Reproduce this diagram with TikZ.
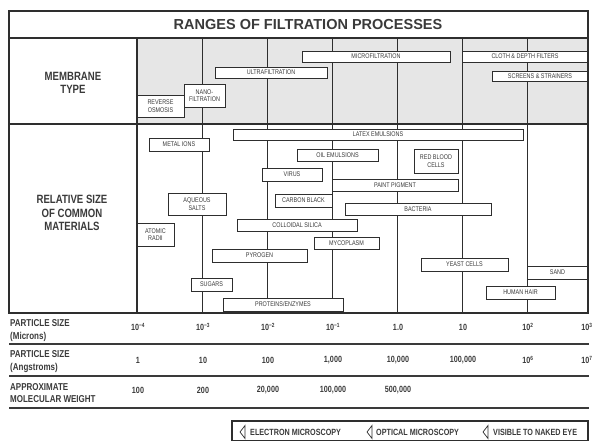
\documentclass[tikz,border=0pt]{standalone}
\usepackage{fontspec}
\setmainfont{Liberation Sans}
\newfontfamily\narrowfont{Liberation Sans}[FakeStretch=0.8]
\usetikzlibrary{positioning,calc}
\definecolor{inkgray}{HTML}{3A3A3A}
\definecolor{linegray}{HTML}{2E2E2E}
\definecolor{shadegray}{HTML}{E6E6E6}

\tikzset{
  bar/.style={draw=linegray,fill=white,line width=0.8pt,inner sep=0pt,align=center,text=inkgray,
    font=\narrowfont\fontsize{6.8}{7.6}\selectfont},
  rowhead/.style={align=center,text=inkgray,inner sep=0pt,font=\narrowfont\bfseries\fontsize{12}{13.5}\selectfont},
  scalehead/.style={anchor=west,align=left,text=inkgray,inner sep=0pt,font=\narrowfont\bfseries\fontsize{10}{12.5}\selectfont},
  scaleval/.style={text=inkgray,inner sep=0pt,font=\narrowfont\bfseries\fontsize{9}{10}\selectfont},
  legendtxt/.style={anchor=west,inner sep=0pt,text=inkgray,font=\narrowfont\bfseries\fontsize{9}{9.5}\selectfont},
  gridline/.style={draw=linegray,line width=0.8pt},
  frameline/.style={draw=linegray,line width=1.4pt},
  sepline/.style={draw=inkgray,line width=1.8pt},
  chevron/.style={draw=linegray,line width=0.7pt,line join=miter}
}

\begin{document}
\begin{tikzpicture}[x=1pt,y=-1pt]
  \useasboundingbox (0,0) rectangle (598,441);

  % chart frame
  \fill[shadegray] (137,38) rectangle (588,124);
  \foreach \x in {202,267,332,397,462,527}
    \draw[gridline] (\x,38) -- (\x,313);
  \node[font=\bfseries\fontsize{14.5}{16}\selectfont,text=inkgray] (title) at (308,25) {RANGES OF FILTRATION PROCESSES};
  \node[rowhead] (membrane) at (73,83) {MEMBRANE\\TYPE};
  \node[rowhead] (relsize) at (72,213) {RELATIVE SIZE\\OF COMMON\\MATERIALS};

  % membrane type
  \node[bar,minimum width=47pt,minimum height=22pt] (ro) at (160.5,106) {REVERSE\\OSMOSIS};
  \node[bar,minimum width=41pt,minimum height=23pt] (nf) at (204.5,95.5) {NANO-\\FILTRATION};
  \node[bar,minimum width=112pt,minimum height=11pt] (uf) at (271,72.5) {ULTRAFILTRATION};
  \node[bar,minimum width=148pt,minimum height=11pt] (mf) at (376,56.5) {MICROFILTRATION};
  \node[bar,minimum width=126pt,minimum height=11pt] (cloth) at (525,56.5) {CLOTH \& DEPTH FILTERS};
  \node[bar,minimum width=96pt,minimum height=10pt] (screens) at (540,76) {SCREENS \& STRAINERS};

  % relative size of common materials
  \node[bar,minimum width=290pt,minimum height=11pt] (latex) at (378,134.5) {LATEX EMULSIONS};
  \node[bar,minimum width=60pt,minimum height=13pt] (metalions) at (179,144.5) {METAL IONS};
  \node[bar,minimum width=81pt,minimum height=12pt] (oil) at (337.5,155) {OIL EMULSIONS};
  \node[bar,minimum width=44pt,minimum height=24pt] (rbc) at (436,161) {RED BLOOD\\CELLS};
  \node[bar,minimum width=60pt,minimum height=13pt] (virus) at (292,174.5) {VIRUS};
  \node[bar,minimum width=126pt,minimum height=12pt] (paint) at (395,185) {PAINT PIGMENT};
  \node[bar,minimum width=57pt,minimum height=13pt] (carbon) at (303.5,200.5) {CARBON BLACK};
  \node[bar,minimum width=58pt,minimum height=22pt] (aqueous) at (197,204) {AQUEOUS\\SALTS};
  \node[bar,minimum width=146pt,minimum height=12pt] (bacteria) at (418,209) {BACTERIA};
  \node[bar,minimum width=120pt,minimum height=12pt] (silica) at (297,225) {COLLOIDAL SILICA};
  \node[bar,minimum width=37pt,minimum height=23pt] (atomic) at (155.5,234.5) {ATOMIC\\RADII};
  \node[bar,minimum width=65pt,minimum height=12pt] (myco) at (346.5,243) {MYCOPLASM};
  \node[bar,minimum width=95pt,minimum height=13pt] (pyrogen) at (259.5,255.5) {PYROGEN};
  \node[bar,minimum width=87pt,minimum height=13pt] (yeast) at (464.5,264.5) {YEAST CELLS};
  \node[bar,minimum width=61pt,minimum height=13pt] (sand) at (557.5,272.5) {SAND};
  \node[bar,minimum width=41pt,minimum height=13pt] (sugars) at (211.5,284.5) {SUGARS};
  \node[bar,minimum width=69pt,minimum height=13pt] (hair) at (520.5,292.5) {HUMAN HAIR};
  \node[bar,minimum width=120pt,minimum height=13pt] (proteins) at (283,304.5) {PROTEINS/ENZYMES};

  \draw[frameline] (9,11) rectangle (588,313);
  \draw[frameline] (9,38) -- (588,38);
  \draw[frameline] (9,124) -- (588,124);
  \draw[frameline] (137,38) -- (137,313);

  % scales
  \node[scalehead] (umhead) at (10,330.5) {PARTICLE SIZE\\(Microns)};
  \node[scalehead] (anghead) at (10,361.5) {PARTICLE SIZE\\(Angstroms)};
  \node[scalehead] (mwhead) at (10,393) {APPROXIMATE\\MOLECULAR WEIGHT};
  \foreach \x/\v [count=\i] in {138/{10\textsuperscript{−4}},203/{10\textsuperscript{−3}},268/{10\textsuperscript{−2}},
      333/{10\textsuperscript{−1}},398/{1.0},463/{10},528/{10\textsuperscript{2}},587/{10\textsuperscript{3}}}
    \node[scaleval] (um\i) at (\x,327) {\v};
  \foreach \x/\v [count=\i] in {138/{1},203/{10},268/{100},333/{1,000},398/{10,000},
      463/{100,000},528/{10\textsuperscript{6}},587/{10\textsuperscript{7}}}
    \node[scaleval] (ang\i) at (\x,360) {\v};
  \foreach \x/\v [count=\i] in {138/{100},203/{200},268/{20,000},333/{100,000},398/{500,000}}
    \node[scaleval] (mw\i) at (\x,390) {\v};
  \draw[sepline] (9,344) -- (589,344);
  \draw[sepline] (9,376) -- (589,376);
  \draw[sepline] (9,408) -- (589,408);

  % legend
  \node[draw=linegray,line width=1.2pt,minimum width=356pt,minimum height=19.5pt,inner sep=0pt] (legend) at (410,430.75) {};
  \node[legendtxt] (electron) at (250,432) {ELECTRON MICROSCOPY};
  \node[legendtxt] (optical) at (376,432) {OPTICAL MICROSCOPY};
  \node[legendtxt] (naked) at (493,432) {VISIBLE TO NAKED EYE};
  \draw[chevron] ($(electron.west)+(-5,-6.5)$) -- ++(-5,6.5) -- ++(5,6.5) -- cycle;
  \draw[chevron] ($(optical.west)+(-4,-6.5)$) -- ++(-5,6.5) -- ++(5,6.5) -- cycle;
  \draw[chevron] ($(naked.west)+(-5,-6.5)$) -- ++(-5,6.5) -- ++(5,6.5) -- cycle;
\end{tikzpicture}
\end{document}
